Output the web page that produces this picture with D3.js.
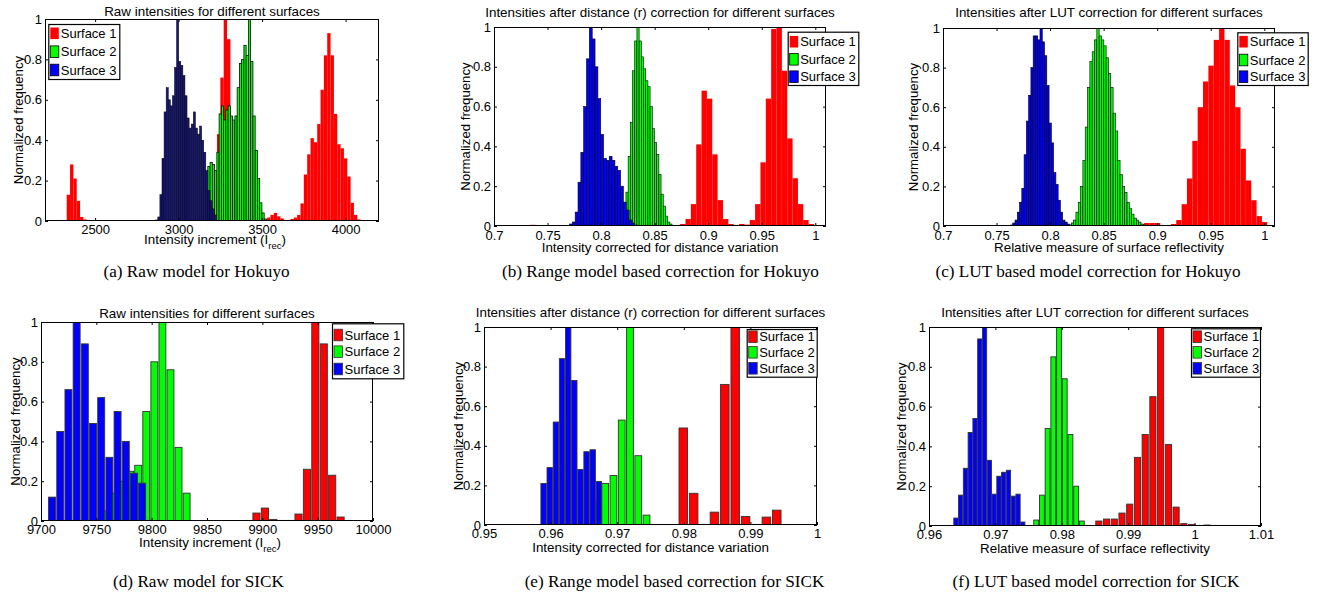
<!DOCTYPE html>
<html><head><meta charset="utf-8">
<script src="https://cdn.jsdelivr.net/npm/d3@7"></script>
<style>
html,body{margin:0;padding:0;background:#fff;}
svg{display:block;}
text{font-family:"Liberation Sans",Arial,Helvetica,sans-serif;fill:#000;}
text.cap{font-family:"Liberation Serif","Times New Roman",serif;}
</style></head><body>
<svg id="chart" width="1330" height="595"></svg>
<script>
// ---------------- DATA ----------------
const seriesNames = ["Surface 1", "Surface 2", "Surface 3"];
const yTicks = [0, 0.2, 0.4, 0.6, 0.8, 1];

// (a) Raw model for Hokuyo : histogram bins [first left edge, bin width]
const aTicks = [2500, 3000, 3500, 4000];
const aRedBin = [2210, 20];
const aRed = [0.003,0.003,0.003,0.003,0.003,0.005,
  0.13,0.28,0.21,0.1,0.02,0.008,
  0.003,0.003,0.003,0.003,0.003,0.003,0.003,0.003,0.003,0.003,0.003,0.003,0.003,0.003,0.003,0.003,0.003,0.003,0.003,
  0.003,0.003,0.003,0.003,0.003,0.003,0.003,0.003,0.003,0.003,0.003,0.003,0.003,0.003,0.003,0.003,0.003,0.003,0.003,
  0.15,0.43,0.71,1.0,0.9,0.45,0.25,0.12,0.06,0.03,0.02,0.01,0.01,0.005,0.005,0.01,
  0.017,0.03,0.04,0.023,0.013,0.005,0.005,0.01,0.017,0.03,0.087,0.23,0.33,0.41,0.39,0.48,0.65,0.82,0.93,0.82,0.53,0.38,0.36,0.31,0.22,0.09,0.03,0.008];
const aGreenBin = [3175, 13.5];
const aGreen = [0.27,0.29,0.28,0.25,0.34,0.53,0.57,0.5,0.55,0.57,0.52,0.5,0.52,0.66,0.78,0.8,0.87,0.82,1.0,0.79,0.52,0.35,0.21,0.09,0.04,0.01];
const aBlueBin = [2863, 12.5];
const aBlue = [0.005,0.02,0.13,0.31,0.54,0.66,0.6,0.57,0.62,0.76,1.0,0.79,0.77,0.72,0.62,0.51,0.46,0.48,0.54,0.46,0.43,0.47,0.4,0.34,0.25,0.15,0.1,0.06,0.03];

// (b) Range model based correction for Hokuyo
const bTicks = [0.7, 0.75, 0.8, 0.85, 0.9, 0.95, 1];
const bRedBin = [0.7038, 0.005];
const bRed = [0.003,0.003,0.003,0.003,0.003,0.003,0.006,0.003,0.003,0.003,0.005,0.003,0.003,0.003,0.003,0.003,0.003,
  0.003,0.003,0.003,0.003,0.003,0.003,0.003,0.003,0.003,0.003,0.003,0.003,0.003,0.003,0.003,0.003,
  0.003,0.01,0.035,0.11,0.41,0.68,0.64,0.36,0.13,0.035,0.01,0.003,0.01,0.007,0.03,0.11,0.32,0.64,0.99,1.0,0.78,0.44,0.24,0.11,0.03,0.01];
const bGreenBin = [0.8232, 0.00205];
const bGreen = [0.17,0.35,0.52,0.78,0.93,1.0,0.93,0.85,0.79,0.73,0.7,0.6,0.49,0.42,0.36,0.26,0.16,0.1,0.05,0.02,0.01];
const bBlueBin = [0.7705, 0.00265];
const bBlue = [0.01,0.02,0.07,0.22,0.37,0.6,0.84,1.0,0.94,0.8,0.64,0.46,0.34,0.33,0.35,0.33,0.3,0.28,0.2,0.12,0.08,0.03,0.015,0.005];

// (c) LUT based model correction for Hokuyo
const cTicks = [0.7, 0.75, 0.8, 0.85, 0.9, 0.95, 1];
const cRedBin = [0.7028, 0.005];
const cRed = [0.003,0.003,0.003,0.003,0.003,0.004,0.003,0.003,0.003,0.003,0.004,0.003,0.003,0.003,0.003,0.003,0.003,0.003,
  0.003,0.003,0.003,0.003,0.003,0.003,0.003,0.003,0.003,0.003,0.003,0.003,0.003,0.003,0.003,0.003,0.003,
  0.005,0.01,0.015,0.015,0.015,0.005,0.005,0.01,0.03,0.11,0.24,0.43,0.6,0.73,0.81,0.94,1.0,0.94,0.71,0.6,0.39,0.23,0.13,0.05,0.02,0.005];
const cGreenBin = [0.8176, 0.00217];
const cGreen = [0.005,0.015,0.03,0.07,0.12,0.2,0.33,0.5,0.7,0.83,0.88,0.94,1.0,0.96,0.94,0.91,0.85,0.77,0.7,0.57,0.48,0.33,0.26,0.2,0.17,0.12,0.09,0.06,0.04,0.03,0.02,0.01,0.005];
const cBlueBin = [0.763, 0.00212];
const cBlue = [0.005,0.015,0.03,0.07,0.12,0.19,0.36,0.53,0.66,0.8,0.96,0.96,0.94,1.0,0.93,0.86,0.71,0.52,0.42,0.27,0.21,0.13,0.07,0.03,0.02,0.01,0.005];

// (d) Raw model for SICK : bar centres and heights
const dTicks = [9700, 9750, 9800, 9850, 9900, 9950, 10000];
const dRedX = [9894.7,9902.3,9909.9,9917.5,9925.1,9932.7,9940.3,9947.9,9955.5,9963.1,9970.7];
const dRedY = [0.04,0.065,0.008,0.002,0.002,0.035,0.26,1.0,0.89,0.23,0.02];
const dGreenX = [9758.6,9765.9,9773.2,9780.5,9787.8,9795.1,9802.4,9809.7,9817.0,9824.3,9831.6];
const dGreenY = [0.05,0.14,0.2,0.25,0.28,0.55,0.8,1.0,0.76,0.37,0.14];
const dBlueX = [9710,9717.4,9724.8,9732.2,9739.6,9747,9754.4,9761.8,9769.2,9776.6,9784,9791.4];
const dBlueY = [0.12,0.45,0.66,1.0,0.89,0.49,0.62,0.32,0.55,0.4,0.24,0.19];

// (e) Range model based correction for SICK
const eTicks = [0.95, 0.96, 0.97, 0.98, 0.99, 1];
const eRedX = [0.97992,0.98148,0.98304,0.9846,0.98616,0.98772,0.98928,0.99084,0.9924,0.99396];
const eRedY = [0.49,0.16,0.003,0.065,0.71,1.0,0.043,0.002,0.04,0.075];
const eGreenX = [0.96696,0.9682,0.96944,0.97068,0.97192,0.97316,0.9744];
const eGreenY = [0.12,0.21,0.25,0.53,1.0,0.35,0.05];
const eBlueX = [0.95895,0.95987,0.9608,0.96172,0.96264,0.96356,0.96448,0.9654,0.96632,0.96724];
const eBlueY = [0.21,0.29,0.52,0.84,1.0,0.73,0.28,0.37,0.38,0.22];

// (f) LUT based model correction for SICK
const fTicks = [0.96, 0.97, 0.98, 0.99, 1, 1.01];
const fRedX = [0.98558,0.98674,0.9879,0.98907,0.99023,0.9914,0.99256,0.99372,0.99488,0.99605,0.99721,0.99837,0.99954,1.0007,1.00186,1.00302,1.00419,1.00535,1.00651,1.00768];
const fRedY = [0.025,0.035,0.035,0.065,0.11,0.345,0.46,0.65,1.0,0.41,0.095,0.012,0.008,0.003,0.005,0.002,0.002,0.002,0.002,0.002];
const fGreenX = [0.97614,0.977,0.97786,0.97872,0.97958,0.98044,0.9813,0.98216,0.98302];
const fGreenY = [0.03,0.155,0.49,0.85,1.0,0.74,0.46,0.2,0.025];
const fBlueX = [0.96405,0.96477,0.96549,0.96621,0.96693,0.96765,0.96837,0.96909,0.96981,0.97053,0.97125,0.97197,0.97269,0.97341,0.97413];
const fBlueY = [0.04,0.155,0.29,0.47,0.54,0.94,1.0,0.33,0.16,0.25,0.27,0.28,0.15,0.16,0.02];

// ---------------- BUILD ----------------
const COLORS = ["#ff0000", "#00ff00", "#0000ff"];
function hist(bin, vals) { return vals.map((v, i) => ({ x0: bin[0] + i * bin[1], x1: bin[0] + (i + 1) * bin[1], y: v })); }
function bars(xs, vals, frac) {
  const step = d3.min(d3.pairs(xs), p => p[1] - p[0]);
  const w = step * frac;
  return xs.map((x, i) => ({ x0: x - w / 2, x1: x + w / 2, y: vals[i] }));
}
// in the dense raw histogram the black bar edges darken the blue bars to navy
const histStyleA = [{ stroke: "none", sw: 0 }, { stroke: "#000", sw: 0.75 }, { stroke: "#000", sw: 0.5, fill: "#17177a" }];
const histStyle = [{ stroke: "none", sw: 0 }, { stroke: "#000", sw: 0.6 }, { stroke: "#000", sw: 0.6 }];
const barStyle = [{ stroke: "#333", sw: 0.9 }, { stroke: "#333", sw: 0.9 }, { stroke: "#333", sw: 0.9 }];

const panels = [
  { L: 45, R: 379, T: 19, B: 221, dom: [2200, 4200], ticks: aTicks, tp: 4,
    title: "Raw intensities for different surfaces", titleY: 16, xlab: ["Intensity increment (I", "rec", ")"], xlabY: 244, ylabX: 23,
    series: [hist(aRedBin, aRed), hist(aGreenBin, aGreen), hist(aBlueBin, aBlue)], style: histStyleA,
    leg: { x: 48.3, y: 24, w: 71, h: 55, rows: [9.3, 27.7, 46] },
    cap: "(a) Raw model for Hokuyo", capX: 196.5, capY: 277 },
  { L: 494, R: 826, T: 27, B: 226, dom: [0.7, 1.01], ticks: bTicks, tp: 5,
    title: "Intensities after distance (r) correction for different surfaces", titleY: 17, xlab: ["Intensity corrected for distance variation"], xlabY: 252, ylabX: 469.5,
    series: [hist(bRedBin, bRed), hist(bGreenBin, bGreen), hist(bBlueBin, bBlue)], style: histStyle,
    leg: { x: 787.7, y: 31.7, w: 70.6, h: 53.3, rows: [10, 27.6, 45] },
    cap: "(b) Range model based correction for Hokuyo", capX: 660.5, capY: 277 },
  { L: 943, R: 1275, T: 28, B: 226, dom: [0.7, 1.01], ticks: cTicks, tp: 5,
    title: "Intensities after LUT correction for different surfaces", titleY: 17, xlab: ["Relative measure of surface reflectivity"], xlabY: 252, ylabX: 918,
    series: [hist(cRedBin, cRed), hist(cGreenBin, cGreen), hist(cBlueBin, cBlue)], style: histStyle,
    leg: { x: 1237.3, y: 32.3, w: 70.4, h: 52.7, rows: [9.4, 27.7, 44.4] },
    cap: "(c) LUT based model correction for Hokuyo", capX: 1088, capY: 277 },
  { L: 41, R: 373, T: 322, B: 521, dom: [9700, 10000], ticks: dTicks, tp: 4,
    title: "Raw intensities for different surfaces", titleY: 318, xlab: ["Intensity increment (I", "rec", ")"], xlabY: 546.5, ylabX: 19.5,
    series: [bars(dRedX, dRedY, 0.85), bars(dGreenX, dGreenY, 0.85), bars(dBlueX, dBlueY, 0.85)], style: barStyle,
    leg: { x: 332, y: 323.3, w: 71.3, h: 55, rows: [11.7, 28.4, 45.7] },
    cap: "(d) Raw model for SICK", capX: 198.5, capY: 587 },
  { L: 484, R: 817, T: 327, B: 525, dom: [0.95, 1], ticks: eTicks, tp: 4,
    title: "Intensities after distance (r) correction for different surfaces", titleY: 316.5, xlab: ["Intensity corrected for distance variation"], xlabY: 551.5, ylabX: 463,
    series: [bars(eRedX, eRedY, 0.82), bars(eGreenX, eGreenY, 0.82), bars(eBlueX, eBlueY, 0.88)], style: barStyle,
    leg: { x: 746.7, y: 329, w: 70, h: 47.7, rows: [7.7, 23.3, 39.3] },
    cap: "(e) Range model based correction for SICK", capX: 674.5, capY: 587 },
  { L: 929, R: 1261, T: 327, B: 526, dom: [0.96, 1.01], ticks: fTicks, tp: 4,
    title: "Intensities after LUT correction for different surfaces", titleY: 316.5, xlab: ["Relative measure of surface reflectivity"], xlabY: 552.5, ylabX: 906,
    series: [bars(fRedX, fRedY, 0.8), bars(fGreenX, fGreenY, 0.85), bars(fBlueX, fBlueY, 0.88)], style: barStyle,
    leg: { x: 1191, y: 328.3, w: 69, h: 48.4, rows: [8.4, 24, 40] },
    cap: "(f) LUT based model correction for SICK", capX: 1096, capY: 587 }
];

const svg = d3.select("#chart");
svg.append("rect").attr("width", 1330).attr("height", 595).attr("fill", "#fff");
const defs = svg.append("defs");
const fmt = d3.format("~g");

panels.forEach((p, pi) => {
  const x = d3.scaleLinear().domain(p.dom).range([p.L, p.R]);
  const y = d3.scaleLinear().domain([0, 1]).range([p.B, p.T]);
  const g = svg.append("g");
  defs.append("clipPath").attr("id", "clip" + pi).append("rect")
    .attr("x", p.L).attr("y", p.T).attr("width", p.R - p.L).attr("height", p.B - p.T);
  const plot = g.append("g").attr("clip-path", `url(#clip${pi})`);
  p.series.forEach((s, si) => {
    const st = p.style[si];
    plot.append("g").selectAll("rect").data(s).join("rect")
      .attr("x", d => x(d.x0)).attr("width", d => x(d.x1) - x(d.x0))
      .attr("y", d => Math.min(y(d.y), y(0) - 0.6)).attr("height", d => Math.max(y(0) - y(d.y), 0.6))
      .attr("fill", st.fill || COLORS[si]).attr("stroke", st.stroke).attr("stroke-width", st.sw);
  });
  // axes
  const styleAxis = a => { a.select(".domain").remove(); a.attr("font-size", 13).selectAll("line").attr("stroke", "#000"); };
  g.append("g").attr("transform", `translate(0,${p.B})`)
    .call(d3.axisBottom(x).tickValues(p.ticks).tickSize(-3).tickSizeOuter(0).tickPadding(p.tp).tickFormat(fmt)).call(styleAxis);
  g.append("g").attr("transform", `translate(0,${p.T})`)
    .call(d3.axisTop(x).tickValues(p.ticks).tickSize(-3).tickSizeOuter(0).tickFormat("")).call(styleAxis);
  g.append("g").attr("transform", `translate(${p.L},0)`)
    .call(d3.axisLeft(y).tickValues(yTicks).tickSize(-3).tickSizeOuter(0).tickPadding(3).tickFormat(fmt)).call(styleAxis);
  g.append("g").attr("transform", `translate(${p.R},0)`)
    .call(d3.axisRight(y).tickValues(yTicks).tickSize(-3).tickSizeOuter(0).tickFormat("")).call(styleAxis);
  g.append("rect").attr("x", p.L + 0.5).attr("y", p.T + 0.5).attr("width", p.R - p.L - 1).attr("height", p.B - p.T - 1)
    .attr("fill", "none").attr("stroke", "#000").attr("stroke-width", 1);
  // title
  g.append("text").attr("x", (p.L + p.R) / 2).attr("y", p.titleY).attr("text-anchor", "middle")
    .attr("font-size", 13.4).text(p.title);
  // x label
  const xl = g.append("text").attr("x", (p.L + p.R) / 2 + (p.xlab.length > 1 ? 3 : 0)).attr("y", p.xlabY)
    .attr("text-anchor", "middle").attr("font-size", 13.4);
  xl.append("tspan").text(p.xlab[0]);
  if (p.xlab.length > 1) {
    xl.append("tspan").attr("dy", 5).attr("font-size", 9.5).text(p.xlab[1]);
    xl.append("tspan").attr("dy", -5).text(p.xlab[2]);
  }
  // y label
  g.append("text").attr("transform", `translate(${p.ylabX},${(p.T + p.B) / 2}) rotate(-90)`)
    .attr("text-anchor", "middle").attr("font-size", 13.2).text("Normalized frequency");
  // legend
  const lg = g.append("g").attr("transform", `translate(${p.leg.x},${p.leg.y})`);
  lg.append("rect").attr("x", 0.5).attr("y", 0.5).attr("width", p.leg.w).attr("height", p.leg.h)
    .attr("fill", "#fff").attr("stroke", "#000").attr("stroke-width", 1.2);
  seriesNames.forEach((nm, si) => {
    const ry = p.leg.rows[si];
    lg.append("rect").attr("x", 2).attr("y", ry - 5.8).attr("width", 8.5).attr("height", 11.6)
      .attr("fill", COLORS[si]).attr("stroke", p.style[si].stroke).attr("stroke-width", p.style[si].sw ? 0.8 : 0);
    lg.append("text").attr("x", 12.5).attr("y", ry + 4.6).attr("font-size", 13).text(nm);
  });
  // caption
  svg.append("text").attr("class", "cap").attr("x", p.capX).attr("y", p.capY).attr("text-anchor", "middle")
    .attr("font-size", 17.2).text(p.cap);
});
</script>
</body></html>
